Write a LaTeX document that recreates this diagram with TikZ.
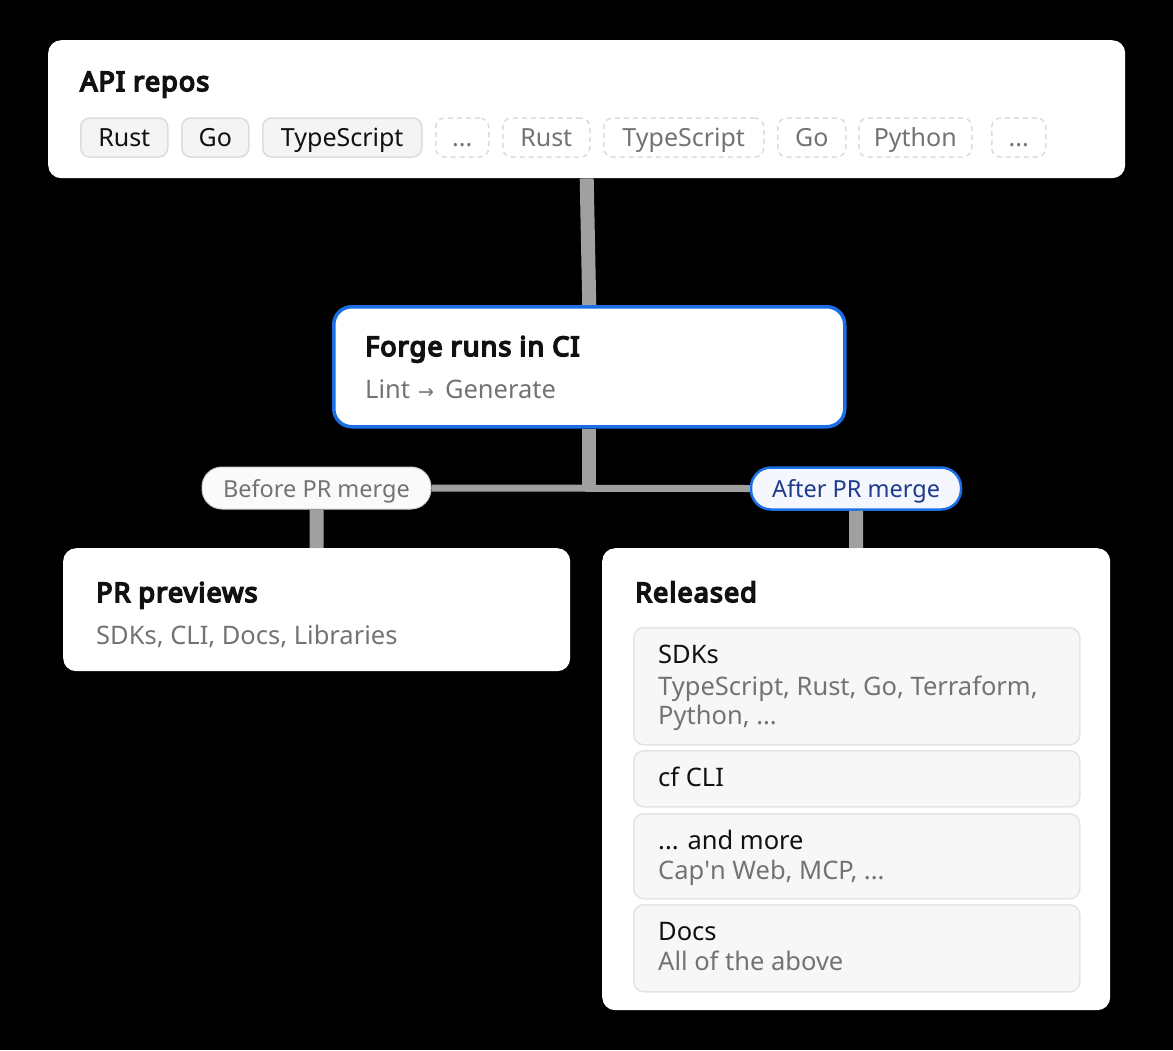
\documentclass[tikz,border=0pt]{standalone}
\usepackage{fontspec}
\setmainfont{Noto Sans}
\newfontfamily\boldfam{Noto Sans}[FakeBold=6, LetterSpace=4]
\newfontfamily\arrowfont{DejaVu Sans}
\definecolor{connc}{HTML}{A0A0A0}
\definecolor{blueb}{HTML}{1A6FE6}
\definecolor{bluet}{HTML}{1E3A8A}
\definecolor{bluefill}{HTML}{F4F7FE}
\definecolor{subgray}{HTML}{737373}
\definecolor{chipfill}{HTML}{F4F4F4}
\definecolor{chipline}{HTML}{DCDCDC}
\definecolor{itemfill}{HTML}{F7F7F7}
\definecolor{itemline}{HTML}{E4E4E4}
\definecolor{inkdark}{HTML}{111111}
\definecolor{pillfill}{HTML}{FAFAFA}
\definecolor{pillline}{HTML}{CFCFCF}
\newcommand\titlefont{\boldfam\fontsize{27}{32}\selectfont}
\newcommand\bodyfont{\fontsize{25.5}{30}\selectfont}
\newcommand\chipfont{\fontsize{25}{29}\selectfont}
\newcommand\pillfont{\fontsize{23.5}{28}\selectfont}
\tikzset{
  panel/.style={draw=none, fill=white, rounded corners=13pt, inner sep=0pt, anchor=north west},
  forgebox/.style={draw=blueb, line width=3.5pt, fill=white, rounded corners=18pt, inner sep=0pt, anchor=north west},
  itembox/.style={draw=itemline, line width=1.5pt, fill=itemfill, rounded corners=10pt, inner sep=0pt, anchor=north west},
  ttl/.style={anchor=base west, inner sep=0pt, font=\titlefont, text=inkdark},
  sub/.style={anchor=base west, inner sep=0pt, font=\bodyfont, text=subgray},
  itm/.style={anchor=base west, inner sep=0pt, font=\bodyfont, text=inkdark},
  chipsolid/.style={draw=chipline, line width=1.5pt, fill=chipfill, rounded corners=9pt, minimum height=39pt, text height=23pt, text depth=5pt, inner sep=0pt, anchor=west, font=\chipfont, text=inkdark},
  chipdash/.style={chipsolid, dash pattern=on 5pt off 4pt, fill=white, text=subgray},
  pillbefore/.style={draw=pillline, line width=1pt, fill=pillfill, rounded corners=20pt, minimum height=42pt, text height=23pt, text depth=5pt, inner sep=0pt, font=\pillfont, text=subgray},
  pillafter/.style={pillbefore, draw=blueb, line width=2.5pt, fill=bluefill, text=bluet},
  connv/.style={draw=connc, line width=14pt},
  connh/.style={draw=connc, line width=7pt},
}
\begin{document}
\begin{tikzpicture}[x=1pt,y=-1pt]
\useasboundingbox (0,0) rectangle (1173,1050);
\fill[black] (0,0) rectangle (1173,1050);

% API repos panel
\node[panel, minimum width=1077pt, minimum height=138pt] (api) at (48,40) {};
\node[ttl] (apit) at (80,91) {API repos};
\node[chipsolid, minimum width=87pt] (c1) at (80,137.5) {Rust};
\node[chipsolid, minimum width=67pt] (c2) at (181,137.5) {Go};
\node[chipsolid, minimum width=159pt] (c3) at (262,137.5) {TypeScript};
\node[chipdash, minimum width=53pt] (c4) at (435,137.5) {...};
\node[chipdash, minimum width=87pt] (c5) at (502,137.5) {Rust};
\node[chipdash, minimum width=160pt] (c6) at (603,137.5) {TypeScript};
\node[chipdash, minimum width=68pt] (c7) at (777,137.5) {Go};
\node[chipdash, minimum width=113pt] (c8) at (858,137.5) {Python};
\node[chipdash, minimum width=54pt] (c9) at (991,137.5) {...};

% Forge
\node[forgebox, minimum width=511pt, minimum height=120pt] (forge) at (332,305) {};
\node[ttl] (forget) at (365,356) {Forge runs in CI};
\node[sub] (forges) at (365,398) {Lint\hspace{8pt}{\arrowfont\fontsize{19}{19}\selectfont →}\hspace{11pt}Generate};

% pills
\node[pillbefore, minimum width=229pt] (before) at (316.5,488) {Before PR merge};
\node[pillafter, minimum width=210pt] (after) at (856,488.5) {After PR merge};

% PR previews
\node[panel, minimum width=507pt, minimum height=123pt] (prev) at (63,548) {};
\node[ttl] (prevt) at (96,602) {PR previews};
\node[sub] (prevs) at (96,644) {SDKs, CLI, Docs, Libraries};

% Released
\node[panel, minimum width=508pt, minimum height=462pt] (rel) at (602,548) {};
\node[ttl] (relt) at (635,602) {Released};
\node[itembox, minimum width=446pt, minimum height=117pt] (sdk) at (633,627) {};
\node[itm] (sdkt) at (658,663) {SDKs};
\node[sub] (sdks1) at (658,695) {TypeScript, Rust, Go, Terraform,};
\node[sub] (sdks2) at (658,724) {Python, ...};
\node[itembox, minimum width=446pt, minimum height=56pt] (cli) at (633,750) {};
\node[itm] (clit) at (658,786) {cf CLI};
\node[itembox, minimum width=446pt, minimum height=85pt] (more) at (633,813) {};
\node[itm] (moret) at (658,849) {... and more};
\node[sub] (mores) at (658,879) {Cap\textquotesingle n Web, MCP, ...};
\node[itembox, minimum width=446pt, minimum height=87pt] (docs) at (633,904) {};
\node[itm] (docst) at (658,940) {Docs};
\node[sub] (docss) at (658,970) {All of the above};

% connectors
\coordinate (j) at (forge.south |- before.east);
\draw[connv] (api.south) -- (forge.north);
\draw[connh] (before.east) -- (after.west);
\draw[connv] (forge.south) -- (j);
\draw[connv] (before.south) -- (prev.north);
\draw[connv] (after.south) -- (rel.north);
\end{tikzpicture}
\end{document}
